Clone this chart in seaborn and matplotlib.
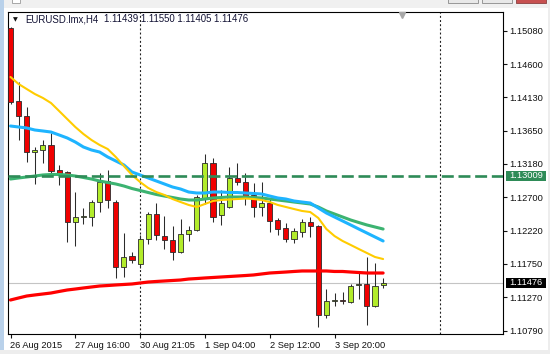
import numpy as np
import pandas as pd
import matplotlib
matplotlib.use("Agg")
import matplotlib.pyplot as plt
import matplotlib.transforms as mtrans
from matplotlib.patches import Rectangle
import seaborn as sns

# ---------------- data ----------------
symbol = "EURUSD.lmx,H4"
opens = [1.15119, 1.14075, 1.13860, 1.13345, 1.13374, 1.13446, 1.13088, 1.13059, 1.12344, 1.12416,
         1.12416, 1.12630, 1.12931, 1.12630, 1.11701, 1.11858, 1.11744, 1.12101, 1.12459, 1.12144,
         1.12087, 1.11915, 1.12173, 1.12230, 1.12673, 1.13188, 1.12445, 1.12559, 1.12974, 1.12916,
         1.12731, 1.12559, 1.12616, 1.12373, 1.12259, 1.12101, 1.12201, 1.12344, 1.12287, 1.11015,
         1.11215, 1.11229, 1.11200, 1.11444, 1.11458, 1.11143, 1.11439]
highs = [1.15133, 1.14346, 1.13989, 1.13417, 1.13517, 1.13617, 1.13160, 1.13074, 1.12773, 1.12545,
         1.12659, 1.13045, 1.13088, 1.12659, 1.12187, 1.11915, 1.12159, 1.12487, 1.12616, 1.12430,
         1.12287, 1.12387, 1.12287, 1.12731, 1.13317, 1.13260, 1.12802, 1.13131, 1.13188, 1.13045,
         1.12902, 1.12916, 1.12688, 1.12402, 1.12330, 1.12259, 1.12387, 1.12416, 1.12302, 1.11386,
         1.11329, 1.11343, 1.11458, 1.11615, 1.11844, 1.11758, 1.11550]
lows = [1.14032, 1.13517, 1.13202, 1.12888, 1.13188, 1.13045, 1.12874, 1.12058, 1.12001, 1.12316,
        1.12287, 1.12487, 1.12545, 1.11544, 1.11558, 1.11758, 1.11687, 1.12030, 1.12087, 1.11958,
        1.11801, 1.11901, 1.12073, 1.12216, 1.12602, 1.12344, 1.12302, 1.12545, 1.12874, 1.12588,
        1.12416, 1.12430, 1.12201, 1.12159, 1.12058, 1.12044, 1.12130, 1.12130, 1.10843, 1.10972,
        1.11143, 1.11172, 1.11186, 1.11243, 1.10872, 1.11129, 1.11405]
closes = [1.14060, 1.13860, 1.13345, 1.13374, 1.13446, 1.13074, 1.13045, 1.12344, 1.12416, 1.12430,
          1.12630, 1.12916, 1.12659, 1.11701, 1.11844, 1.11801, 1.12101, 1.12459, 1.12159, 1.12087,
          1.11915, 1.12173, 1.12230, 1.12702, 1.13188, 1.12416, 1.12616, 1.12974, 1.12916, 1.12716,
          1.12559, 1.12616, 1.12359, 1.12244, 1.12101, 1.12216, 1.12344, 1.12287, 1.11015, 1.11215,
          1.11229, 1.11215, 1.11429, 1.11458, 1.11143, 1.11429, 1.11476]

ma_yellow = [1.14418, 1.14318, 1.14246, 1.14175, 1.14118, 1.14046, 1.13932, 1.13817, 1.13703, 1.13603,
             1.13517, 1.13446, 1.13388, 1.13274, 1.13145, 1.13017, 1.12916, 1.12831, 1.12773, 1.12731,
             1.12673, 1.12630, 1.12588, 1.12559, 1.12602, 1.12645, 1.12659, 1.12666, 1.12673, 1.12680,
             1.12673, 1.12659, 1.12630, 1.12588, 1.12559, 1.12530, 1.12502, 1.12487, 1.12402, 1.12244,
             1.12144, 1.12073, 1.12016, 1.11958, 1.11901, 1.11844, 1.11815]
ma_blue = [1.13717, 1.13703, 1.13689, 1.13660, 1.13646, 1.13631, 1.13589, 1.13546, 1.13488, 1.13417,
           1.13374, 1.13345, 1.13274, 1.13217, 1.13160, 1.13059, 1.13017, 1.12974, 1.12931, 1.12888,
           1.12845, 1.12816, 1.12773, 1.12759, 1.12759, 1.12773, 1.12773, 1.12766, 1.12766, 1.12759,
           1.12752, 1.12745, 1.12716, 1.12688, 1.12673, 1.12645, 1.12630, 1.12616, 1.12545, 1.12473,
           1.12416, 1.12359, 1.12302, 1.12244, 1.12187, 1.12130, 1.12073]
ma_green = [1.12959, 1.12974, 1.12988, 1.13002, 1.13017, 1.13024, 1.13024, 1.13017, 1.13002, 1.12981,
            1.12959, 1.12931, 1.12909, 1.12888, 1.12859, 1.12823, 1.12795, 1.12766, 1.12738, 1.12716,
            1.12695, 1.12673, 1.12659, 1.12659, 1.12673, 1.12688, 1.12695, 1.12702, 1.12702, 1.12702,
            1.12695, 1.12688, 1.12673, 1.12659, 1.12645, 1.12630, 1.12616, 1.12602, 1.12559, 1.12502,
            1.12459, 1.12416, 1.12373, 1.12337, 1.12302, 1.12273, 1.12244]
ma_red = [1.11229, 1.11258, 1.11286, 1.11301, 1.11315, 1.11329, 1.11351, 1.11372, 1.11386, 1.11401,
          1.11415, 1.11429, 1.11436, 1.11444, 1.11451, 1.11458, 1.11472, 1.11486, 1.11494, 1.11501,
          1.11508, 1.11515, 1.11529, 1.11536, 1.11544, 1.11551, 1.11558, 1.11565, 1.11572, 1.11579,
          1.11587, 1.11601, 1.11615, 1.11622, 1.11629, 1.11637, 1.11644, 1.11644, 1.11644, 1.11644,
          1.11637, 1.11637, 1.11629, 1.11622, 1.11615, 1.11615, 1.11615]

price_level = 1.13009
y_ticks = [1.15080, 1.14600, 1.14130, 1.13650, 1.13180, 1.12700, 1.12220, 1.11750, 1.11270, 1.10790]
x_tick_bars = [0, 8, 16, 24, 32, 40]
x_tick_labels = ["26 Aug 2015", "27 Aug 16:00", "30 Aug 21:05", "1 Sep 04:00", "2 Sep 12:00", "3 Sep 20:00"]
separator_bars = [16, 53]
shift_marker_bar = 48.3

# ---------------- style ----------------
sns.set_theme(style="white")
plt.rcParams["font.family"] = ["Liberation Sans", "DejaVu Sans"]
plt.rcParams["lines.scale_dashes"] = False
FS = 6.7

W, H = 550, 354
fig = plt.figure(figsize=(W / 100, H / 100), dpi=100, facecolor="white")
L, R, T, B = 8, 503, 12, 334
ax = fig.add_axes([L / W, 1 - B / H, (R - L) / W, (B - T) / H])
ax.set_facecolor("white")

o = np.array(opens); h = np.array(highs); lo = np.array(lows); c = np.array(closes)
idx = np.arange(len(o))
bull = c >= o

# candles
ax.vlines(idx, lo, h, color="#2b2b2b", lw=0.75, zorder=2)
bottoms = np.minimum(o, c)
heights = np.maximum(np.abs(c - o), 0.00008)
ax.bar(idx, heights, bottom=bottoms, width=0.62,
       color=np.where(bull, "#B2EC2A", "#F00000"), edgecolor="#2b2b2b",
       linewidth=0.6, zorder=3)

# moving averages
for vals, col, lw in [(ma_red, "#FF0000", 2.3), (ma_green, "#3CB371", 2.2),
                      (ma_blue, "#1EB4FF", 2.2), (ma_yellow, "#FFCC00", 1.5)]:
    df = pd.DataFrame({"bar": idx, "ma": vals})
    sns.lineplot(data=df, x="bar", y="ma", color=col, lw=lw, ax=ax,
                 estimator=None, sort=False, zorder=4)

# bid line and price level
ax.axhline(closes[-1], color="#C4C4C4", lw=0.8, zorder=1)
ax.axhline(price_level, color="#2E8B57", lw=1.9, dashes=(8.6, 3.4), zorder=5)

# vertical dotted separators
for b in separator_bars:
    ax.axvline(b, color="#202020", lw=0.8, dashes=(1.4, 1.6), zorder=1.5)

# chart shift marker
ax.plot([shift_marker_bar], [0.992], marker="v", color="#A8A8A8", ms=5,
        transform=ax.get_xaxis_transform(), clip_on=False, zorder=6)

ax.set_xlim((L - 10.5) / 8.1, (R - 10.5) / 8.1)
ax.set_ylim(1.15519 - 0.000143 * B, 1.15519 - 0.000143 * T)
ax.autoscale(False)

# axes
ax.yaxis.tick_right()
ax.set_yticks(y_ticks)
ax.set_yticklabels([f"{v:.5f}" for v in y_ticks])
ax.set_xticks(x_tick_bars)
ax.set_xticklabels(x_tick_labels)
for lab in ax.get_xticklabels():
    lab.set_ha("left")
ax.tick_params(axis="y", direction="out", length=3, width=0.8, pad=1.5,
               labelsize=FS, colors="#111111", right=True, left=False)
ax.tick_params(axis="x", direction="out", length=3, width=0.8, pad=1.8,
               labelsize=FS, colors="#111111", bottom=True)
ax.set_xlabel(""); ax.set_ylabel("")
for s in ax.spines.values():
    s.set_visible(True); s.set_color("black"); s.set_linewidth(0.8)
ax.grid(False)

# price boxes on the right axis
trans = mtrans.blended_transform_factory(fig.transFigure, ax.transData)
bh = 0.000143 * 10
for val, bg in [(price_level, "#2E8B57"), (closes[-1], "#000000")]:
    fig.add_artist(Rectangle((505.5 / W, val - bh / 2), 40.5 / W, bh, transform=trans,
                             facecolor=bg, edgecolor="none", zorder=10))
    fig.text(525.7 / W, val, f"{val:.5f}", transform=trans, ha="center", va="center",
             color="white", fontsize=FS, zorder=12)

# header
yh = 1 - 19.5 / H
fig.text(12.5 / W, yh, "\u25BC", fontsize=4.5, va="center", color="#111111",
         family=["DejaVu Sans"])
fig.text(25 / W, yh, symbol, fontsize=FS + 0.2, va="center", color="#111133")
fig.text(104 / W, yh, f"{opens[-1]:.5f} {highs[-1]:.5f} {lows[-1]:.5f} {closes[-1]:.5f}",
         fontsize=FS + 0.2, va="center", color="#111133")

# window chrome
def fig_rect(x0, y0, w, hgt, fc, ec="none", lw=0.0):
    fig.add_artist(Rectangle((x0 / W, 1 - (y0 + hgt) / H), w / W, hgt / H,
                             transform=fig.transFigure, facecolor=fc, edgecolor=ec,
                             linewidth=lw, zorder=0))

fig_rect(0, 0, W, 8, "#F0F0F0")
fig_rect(0, 0, 4, H, "#B9D1EA")
fig_rect(W - 2, 0, 2, H, "#EDEDED")
fig_rect(0, H - 4, W, 4, "#EDEDED")
fig_rect(12, -2, 8, 4.5, "#FFFFFF", "#9A9A9A", 0.6)
fig_rect(448, -2, 30, 5, "#E8E8E8", "#8A8A8A", 0.6)
fig_rect(482, -2, 30, 5, "#E8E8E8", "#8A8A8A", 0.6)
fig_rect(516, -2, 30, 5, "#C75050", "#8A4040", 0.6)

fig.savefig("out.png", dpi=100, facecolor=fig.get_facecolor())
